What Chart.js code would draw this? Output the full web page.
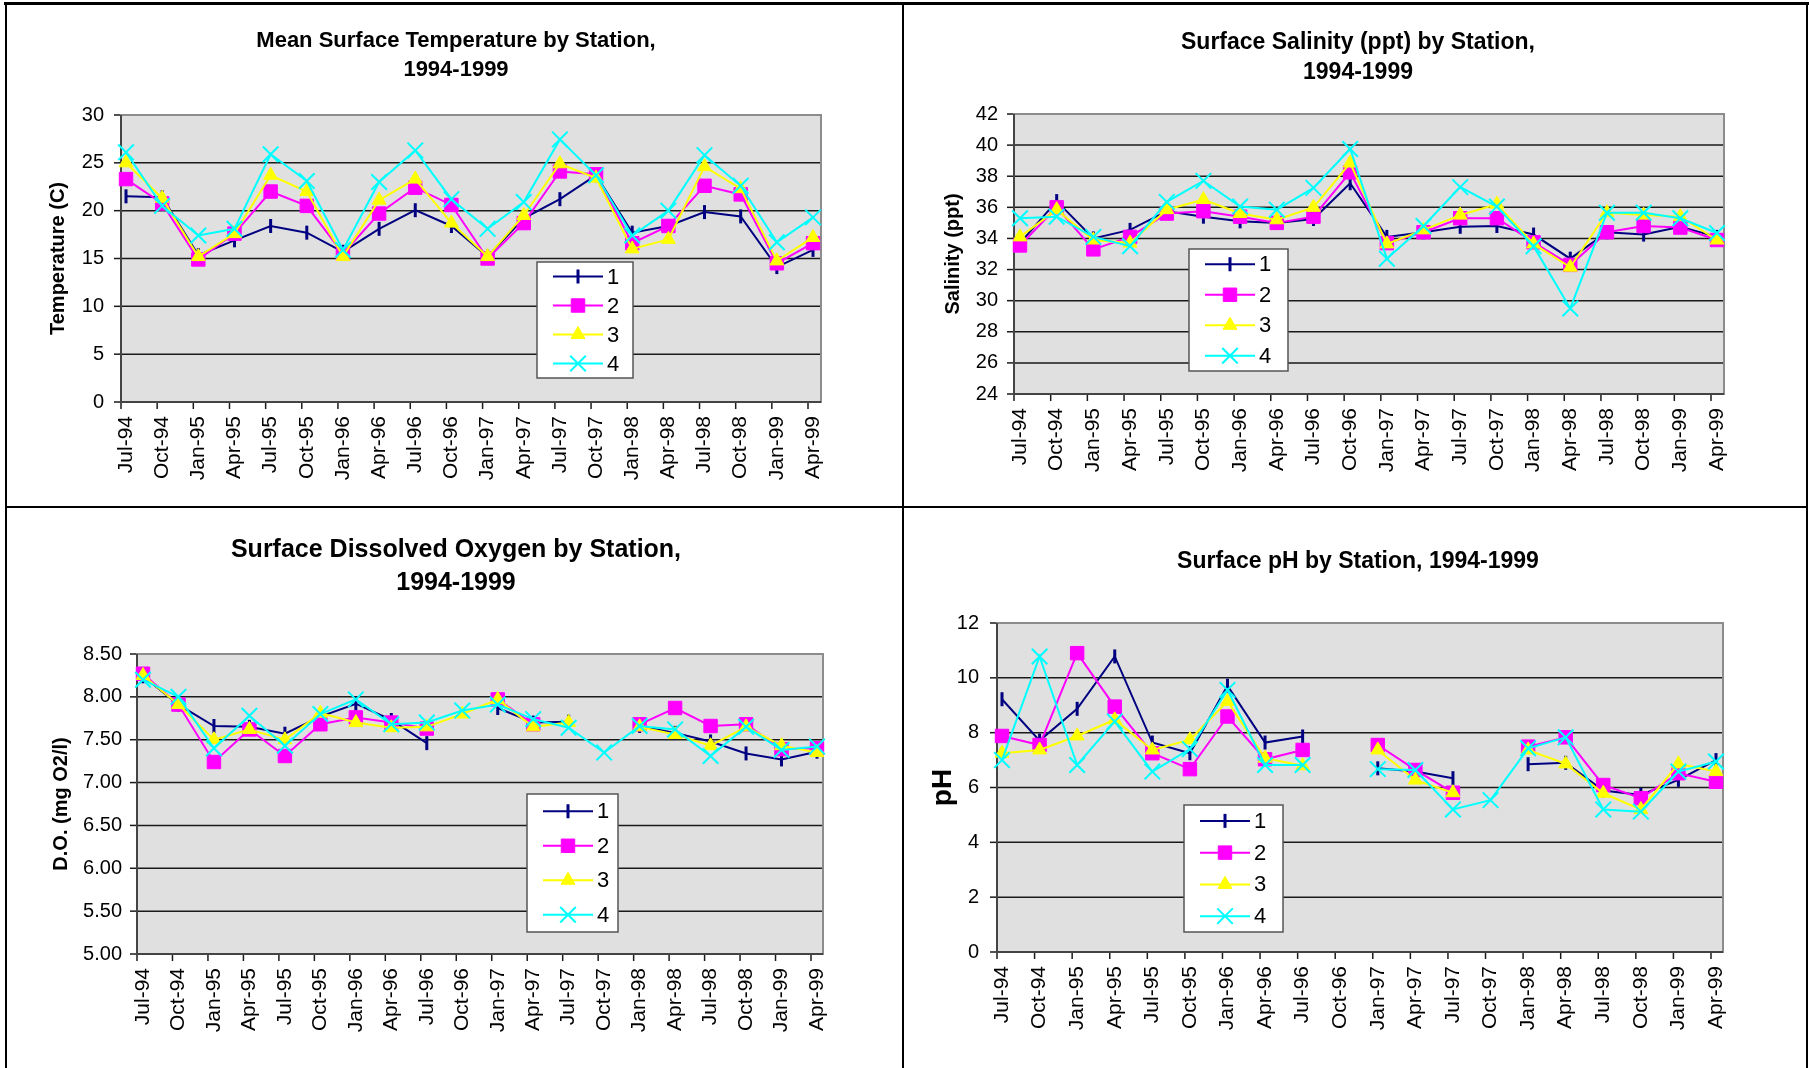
<!DOCTYPE html>
<html>
<head>
<meta charset="utf-8">
<title>Surface water quality by station, 1994-1999</title>
<script src="https://cdn.jsdelivr.net/npm/chart.js@4.4.1/dist/chart.umd.min.js"></script>
<style>
  body { margin: 0; width: 1809px; height: 1068px; position: relative; overflow: hidden; background: #fff; }
  canvas { position: absolute; }
  .rule { position: absolute; background: #000; }
</style>
</head>
<body>
<div class="rule" style="left:4px;top:2px;width:1805px;height:3px"></div>
<div class="rule" style="left:5px;top:2px;width:2px;height:1066px"></div>
<div class="rule" style="left:902px;top:2px;width:2px;height:1066px"></div>
<div class="rule" style="left:1806px;top:2px;width:2px;height:1066px"></div>
<div class="rule" style="left:5px;top:506px;width:1803px;height:2px"></div>

<canvas id="tempChart" width="895" height="501" style="left:7px;top:5px"></canvas>
<canvas id="salChart" width="902" height="501" style="left:904px;top:5px"></canvas>
<canvas id="doChart" width="895" height="560" style="left:7px;top:508px"></canvas>
<canvas id="phChart" width="902" height="560" style="left:904px;top:508px"></canvas>

<script>
const months = ['Jul-94', 'Oct-94', 'Jan-95', 'Apr-95', 'Jul-95', 'Oct-95', 'Jan-96', 'Apr-96', 'Jul-96', 'Oct-96',
                'Jan-97', 'Apr-97', 'Jul-97', 'Oct-97', 'Jan-98', 'Apr-98', 'Jul-98', 'Oct-98', 'Jan-99', 'Apr-99'];

// temperature (C), stations 1-4
const temp1 = [21.5, 21.4, 15.35, 16.9, 18.4, 17.7, 15.7, 18.1, 20.05, 18.4, 15.2, 19.2, 21.2, 23.7, 17.7, 18.4, 19.85, 19.4, 14.1, 15.9];
const temp2 = [23.3, 20.75, 14.9, 17.6, 22.0, 20.5, 15.5, 19.7, 22.4, 20.6, 15.0, 18.7, 24.1, 23.8, 16.6, 18.4, 22.6, 21.7, 14.5, 16.6];
const temp3 = [25.0, 21.3, 15.2, 17.6, 23.7, 22.0, 15.2, 21.1, 23.3, 18.7, 15.2, 19.5, 24.9, 23.4, 16.0, 17.0, 24.6, 22.3, 14.75, 17.2];
const temp4 = [26.1, 20.5, 17.4, 18.1, 25.9, 23.1, 15.9, 23.0, 26.3, 21.2, 18.1, 20.9, 27.45, 23.7, 17.4, 20.0, 25.8, 22.6, 16.7, 19.3];

// salinity (ppt)
const sal1 = [33.7, 36.4, 34.0, 34.55, 35.75, 35.4, 35.1, 35.0, 35.25, 37.55, 34.1, 34.4, 34.75, 34.8, 34.25, 32.7, 34.4, 34.25, 34.75, 34.1];
const sal2 = [33.55, 36.0, 33.3, 34.1, 35.6, 35.75, 35.4, 35.0, 35.4, 38.25, 33.7, 34.4, 35.3, 35.3, 33.75, 32.3, 34.4, 34.8, 34.7, 33.9];
const sal3 = [34.1, 35.85, 33.9, 33.7, 35.85, 36.5, 35.6, 35.2, 36.0, 38.85, 33.65, 34.55, 35.5, 36.2, 33.65, 32.15, 35.65, 35.5, 35.4, 33.9];
const sal4 = [35.3, 35.4, 34.1, 33.5, 36.35, 37.7, 36.05, 35.85, 37.25, 39.75, 32.7, 34.8, 37.3, 36.05, 33.5, 29.5, 35.65, 35.65, 35.3, 34.35];

// dissolved oxygen (mg O2/l), null = no sample
const do1 = [8.24, 7.91, 7.66, 7.65, 7.57, 7.77, 7.92, 7.73, 7.46, null, 7.87, 7.70, 7.71, null, 7.66, 7.58, 7.48, 7.34, 7.27, 7.36];
const do2 = [8.27, 7.91, 7.24, 7.62, 7.31, 7.68, 7.76, 7.70, 7.63, null, 7.97, 7.68, null, null, 7.68, 7.87, 7.66, 7.68, 7.39, 7.40];
const do3 = [8.25, 7.91, 7.50, 7.62, 7.50, 7.81, 7.70, 7.64, 7.65, 7.80, 7.97, 7.65, 7.70, null, 7.65, 7.56, 7.43, 7.65, 7.43, 7.35];
const do4 = [8.20, 8.00, 7.40, 7.78, 7.43, 7.80, 7.97, 7.68, 7.70, 7.84, 7.91, 7.74, 7.64, 7.35, 7.66, 7.62, 7.31, 7.65, 7.38, 7.42];

// pH
const ph1 = [9.22, 7.71, 8.87, 10.78, 7.64, 7.25, 9.71, 7.64, 7.86, null, 6.7, 6.58, 6.34, null, 6.85, 6.9, 5.89, 5.73, 6.28, 7.0];
const ph2 = [7.88, 7.55, 10.9, 8.95, 7.25, 6.67, 8.59, 7.03, 7.37, null, 7.55, 6.64, 5.81, null, 7.49, 7.83, 6.09, 5.61, 6.52, 6.21];
const ph3 = [7.25, 7.37, 7.88, 8.47, 7.37, 7.74, 9.14, 7.07, 6.79, null, 7.37, 6.27, 5.81, null, 7.37, 6.86, 5.79, 5.2, 6.86, 6.58];
const ph4 = [7.0, 10.78, 6.82, 8.41, 6.58, 7.4, 9.56, 6.82, 6.82, null, 6.67, 6.64, 5.2, 5.54, 7.43, 7.83, 5.2, 5.12, 6.58, 6.95];

const FONT = '"Liberation Sans", Arial, sans-serif';
Chart.defaults.font.family = FONT;
Chart.defaults.color = '#000';

const stationStyles = [
  { color: '#000080', pointStyle: 'line', rotation: 90, radius: 7, width: 3 },
  { color: '#ff00ff', pointStyle: 'rect', rotation: 0, radius: 9.5, width: 1 },
  { color: '#ffff00', pointStyle: 'triangle', rotation: 0, radius: 8, width: 1 },
  { color: '#00ffff', pointStyle: 'crossRot', rotation: 0, radius: 11, width: 2 },
];

// grey plot area, gridlines, tick marks, title and the boxed legend, Excel style
const excelFrame = {
  id: 'excelFrame',
  beforeDatasetsDraw(chart, args, opts) {
    const { ctx, chartArea: a, scales: { x, y } } = chart;
    const left = a.left - opts.extL;
    const right = a.right + opts.extR;
    ctx.save();
    ctx.fillStyle = '#e0e0e0';
    ctx.fillRect(left, a.top, right - left, a.bottom - a.top);

    ctx.strokeStyle = '#1a1a1a';
    ctx.lineWidth = 1.5;
    y.ticks.forEach(t => {
      const py = y.getPixelForValue(t.value);
      if (t.value !== y.max && t.value !== y.min) {
        ctx.beginPath(); ctx.moveTo(left, py); ctx.lineTo(right, py); ctx.stroke();
      }
      ctx.beginPath(); ctx.moveTo(left - 7, py); ctx.lineTo(left, py); ctx.stroke();
    });
    months.forEach((m, i) => {
      const px = x.getPixelForValue(i) - opts.extL;
      ctx.beginPath(); ctx.moveTo(px, a.bottom); ctx.lineTo(px, a.bottom + 7); ctx.stroke();
    });

    ctx.strokeStyle = '#8c8c8c';
    ctx.lineWidth = 2;
    ctx.strokeRect(left, a.top, right - left, a.bottom - a.top);
    ctx.strokeStyle = '#444';
    ctx.beginPath();
    ctx.moveTo(left, a.top); ctx.lineTo(left, a.bottom); ctx.lineTo(right, a.bottom);
    ctx.stroke();
    ctx.restore();
  },
  afterDraw(chart, args, opts) {
    const { ctx } = chart;
    ctx.save();
    ctx.fillStyle = '#000';
    ctx.font = `bold ${opts.titleSize}px ${FONT}`;
    ctx.textAlign = 'center';
    ctx.textBaseline = 'middle';
    opts.title.forEach((line, i) => ctx.fillText(line, opts.titleX, opts.titleY[i]));

    const b = opts.legend;
    ctx.fillStyle = '#fff';
    ctx.fillRect(b.x, b.y, b.w, b.h);
    ctx.strokeStyle = '#555';
    ctx.lineWidth = 1.5;
    ctx.strokeRect(b.x, b.y, b.w, b.h);
    const rowH = b.h / chart.data.datasets.length;
    chart.data.datasets.forEach((ds, i) => {
      const cy = b.y + rowH * (i + 0.5);
      ctx.strokeStyle = ds.borderColor;
      ctx.lineWidth = 2;
      ctx.beginPath(); ctx.moveTo(b.x + 16, cy); ctx.lineTo(b.x + 66, cy); ctx.stroke();
      ctx.fillStyle = ds.pointBackgroundColor;
      ctx.strokeStyle = ds.pointBorderColor;
      ctx.lineWidth = ds.pointBorderWidth;
      Chart.helpers.drawPoint(ctx, {
        pointStyle: ds.pointStyle, rotation: ds.pointRotation, radius: ds.pointRadius, borderWidth: ds.pointBorderWidth
      }, b.x + 41, cy);
      ctx.fillStyle = '#000';
      ctx.font = `22px ${FONT}`;
      ctx.textAlign = 'left';
      ctx.fillText(ds.label, b.x + 70, cy + 1);
    });
    ctx.restore();
  }
};

function buildChart(canvasId, series, axis, geo) {
  return new Chart(document.getElementById(canvasId), {
    type: 'line',
    data: {
      labels: months,
      datasets: series.map((values, i) => {
        const st = stationStyles[i];
        return {
          label: String(i + 1),
          data: values,
          borderColor: st.color,
          backgroundColor: st.color,
          borderWidth: 2,
          pointStyle: st.pointStyle,
          pointRotation: st.rotation,
          pointRadius: st.radius,
          pointBackgroundColor: st.color,
          pointBorderColor: st.color,
          pointBorderWidth: st.width,
          tension: 0,
          spanGaps: false,
          clip: false,
          order: 4 - i,
        };
      }),
    },
    options: {
      responsive: false,
      animation: false,
      events: [],
      layout: { autoPadding: false, padding: { left: geo.padL, right: geo.padR, top: geo.top, bottom: 0 } },
      plugins: {
        legend: { display: false },
        title: { display: false },
        tooltip: { enabled: false },
        excelFrame: geo.frame,
      },
      scales: {
        x: {
          offset: false,
          grid: { display: false, drawTicks: false },
          border: { display: false },
          ticks: { autoSkip: false, minRotation: 90, maxRotation: 90, padding: 14, font: { size: 21 } },
          afterFit: s => { s.height = geo.xH; },
        },
        y: {
          min: axis.min,
          max: axis.max,
          grid: { display: false, drawTicks: false },
          border: { display: false },
          ticks: { stepSize: axis.step, padding: geo.tickGap, font: { size: 20 }, callback: axis.format },
          title: { display: true, text: axis.title, padding: 0, font: { size: axis.titleSize, weight: 'bold' } },
          afterFit: s => { s.width = geo.yW; },
        },
      },
    },
    plugins: [excelFrame],
  });
}

buildChart('tempChart', [temp1, temp2, temp3, temp4],
  { min: 0, max: 30, step: 5, title: 'Temperature (C)', titleSize: 20 },
  { padL: 39, yW: 80, padR: 89, top: 110, xH: 104, tickGap: 22,
    frame: { extL: 5, extR: 8, title: ['Mean Surface Temperature by Station,', '1994-1999'], titleSize: 22,
             titleX: 449, titleY: [36, 65], legend: { x: 530, y: 257, w: 96, h: 116 } } });

buildChart('salChart', [sal1, sal2, sal3, sal4],
  { min: 24, max: 42, step: 2, title: 'Salinity (ppt)', titleSize: 20 },
  { padL: 37, yW: 79, padR: 89, top: 109, xH: 112, tickGap: 22,
    frame: { extL: 6, extR: 7, title: ['Surface Salinity (ppt) by Station,', '1994-1999'], titleSize: 23,
             titleX: 454, titleY: [38, 68], legend: { x: 285, y: 244, w: 99, h: 122 } } });

buildChart('doChart', [do1, do2, do3, do4],
  { min: 5, max: 8.5, step: 0.5, title: 'D.O. (mg O2/l)', titleSize: 20, format: v => v.toFixed(2) },
  { padL: 42, yW: 94, padR: 85, top: 146, xH: 114, tickGap: 21,
    frame: { extL: 6, extR: 6, title: ['Surface Dissolved Oxygen by Station,', '1994-1999'], titleSize: 25,
             titleX: 449, titleY: [42, 75], legend: { x: 520, y: 286, w: 91, h: 138 } } });

buildChart('phChart', [ph1, ph2, ph3, ph4],
  { min: 0, max: 12, step: 2, title: 'pH', titleSize: 28 },
  { padL: 22, yW: 76, padR: 90, top: 115, xH: 116, tickGap: 23,
    frame: { extL: 5, extR: 7, title: ['Surface pH by Station, 1994-1999'], titleSize: 23,
             titleX: 454, titleY: [54], legend: { x: 280, y: 297, w: 99, h: 127 } } });
</script>
</body>
</html>
